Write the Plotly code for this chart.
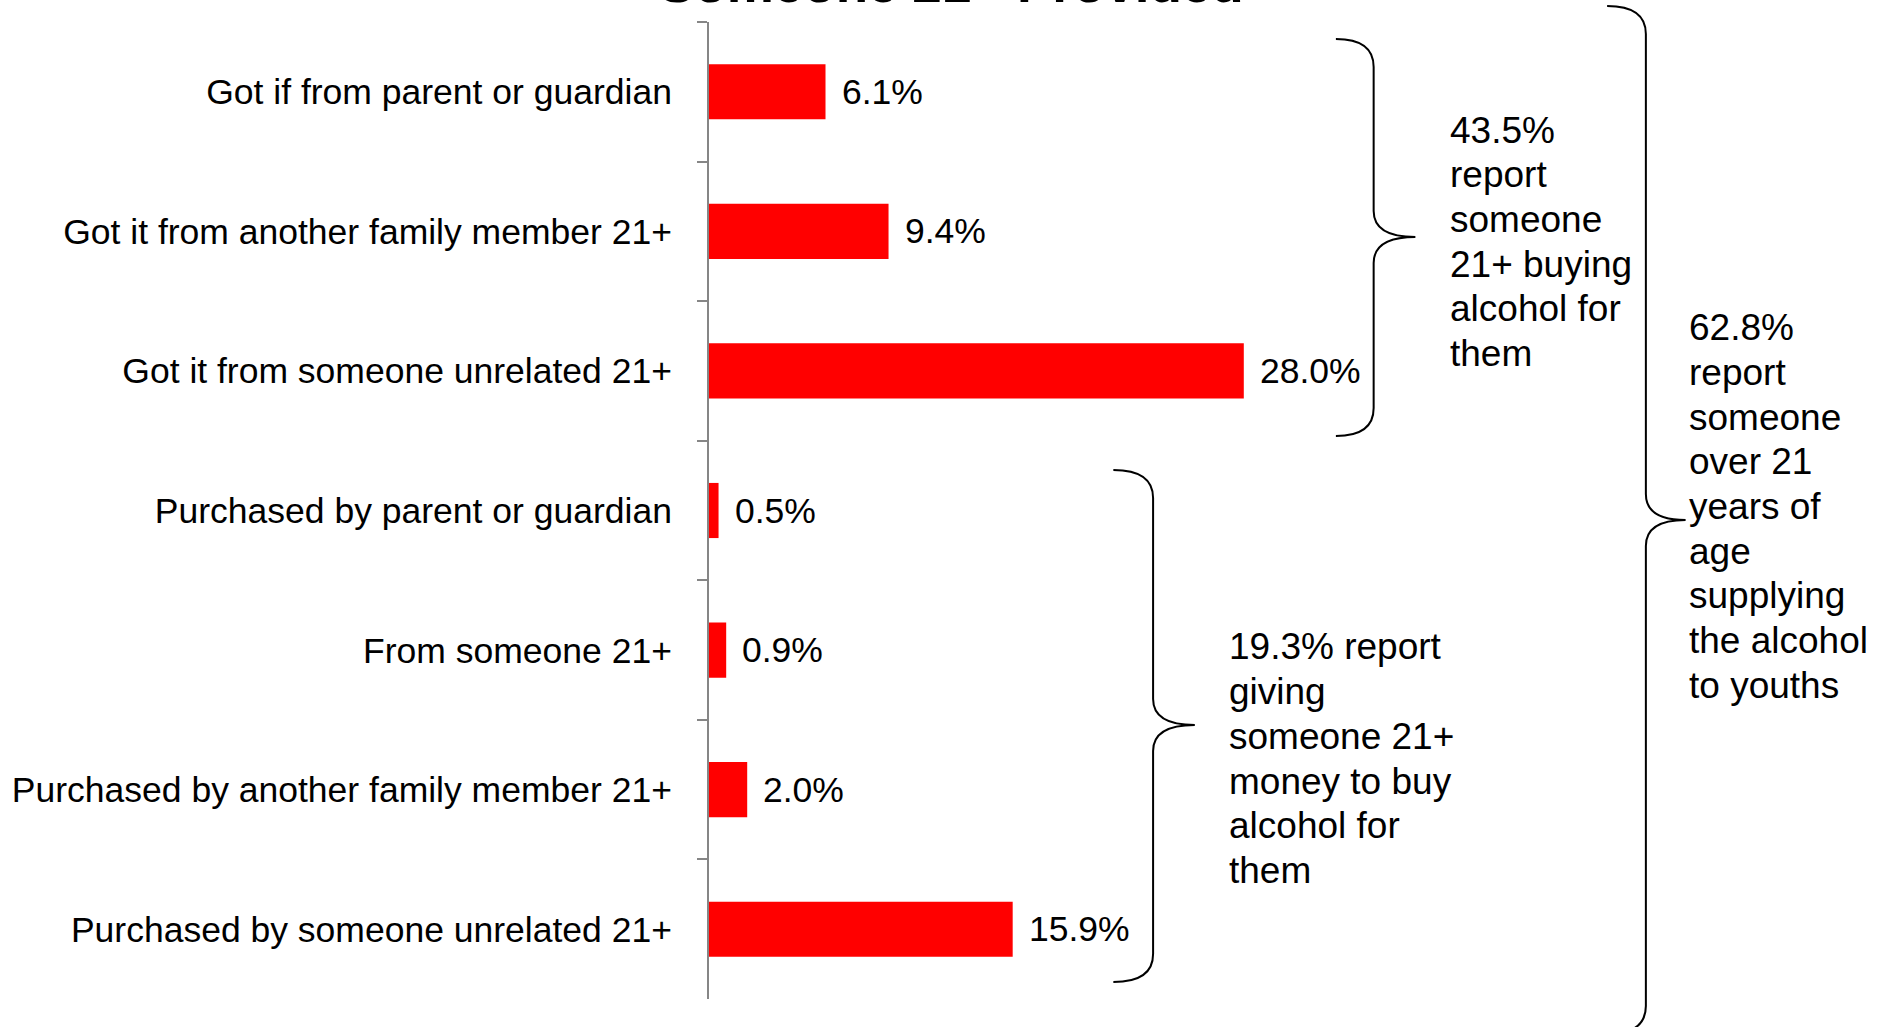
import plotly.graph_objects as go

# ---- data ----
categories = [
    "Got if from parent or guardian",
    "Got it from another family member 21+",
    "Got it from someone unrelated 21+",
    "Purchased by parent or guardian",
    "From someone 21+",
    "Purchased by another family member 21+",
    "Purchased by someone unrelated 21+",
]
values = [6.1, 9.4, 28.0, 0.5, 0.9, 2.0, 15.9]
value_labels = ["6.1%", "9.4%", "28.0%", "0.5%", "0.9%", "2.0%", "15.9%"]

title_text = "Someone 21+ Provided"
note_top = ["43.5%", "report", "someone", "21+ buying", "alcohol for", "them"]
note_bottom = ["19.3% report", "giving", "someone 21+", "money to buy", "alcohol for", "them"]
note_all = ["62.8%", "report", "someone", "over 21", "years of", "age",
            "supplying", "the alcohol", "to youths"]

# ---- layout geometry (page pixels) ----
W, H = 1889, 1027
ML, MR, MT, MB = 704, 416, 22, 28
PW, PH = W - ML - MR, H - MT - MB
FONT = "Arial, Liberation Sans, sans-serif"
FS = 35.5
FS_NOTE = 37
LINE = 44.7


def px(x):
    return (x - ML) / PW


def py(y):
    return (H - MB - y) / PH


def brace(xe, xm, xt, yt, ytip, yb, r=28, rt=26):
    p = (
        f"M {px(xe)},{py(yt)} "
        f"Q {px(xm)},{py(yt)} {px(xm)},{py(yt + r)} "
        f"L {px(xm)},{py(ytip - rt)} "
        f"Q {px(xm)},{py(ytip)} {px(xt)},{py(ytip)} "
        f"Q {px(xm)},{py(ytip)} {px(xm)},{py(ytip + rt)} "
        f"L {px(xm)},{py(yb - r)} "
        f"Q {px(xm)},{py(yb)} {px(xe)},{py(yb)}"
    )
    return dict(type="path", xref="paper", yref="paper", path=p,
                line=dict(color="black", width=2))


fig = go.Figure(
    go.Bar(
        x=values,
        y=categories,
        orientation="h",
        marker=dict(color="#FF0000", line=dict(width=0)),
        showlegend=False,
        hoverinfo="skip",
    )
)

annotations = []
for c, v, t in zip(categories, values, value_labels):
    annotations.append(dict(x=v, y=c, xref="x", yref="y", text=t, showarrow=False,
                            xanchor="left", yanchor="middle", xshift=14,
                            font=dict(family=FONT, size=FS, color="black")))

annotations.append(dict(x=px(948), y=py(-16), xref="paper", yref="paper",
                        text=f"<b>{title_text}</b>", showarrow=False,
                        xanchor="center", yanchor="middle",
                        font=dict(family=FONT, size=53, color="black")))

for lines, x0, y0 in [(note_top, 1447.5, 130.1), (note_bottom, 1225, 646.9),
                      (note_all, 1688.5, 327.7)]:
    for i, ln in enumerate(lines):
        annotations.append(dict(x=px(x0), y=py(y0 + i * LINE), xref="paper", yref="paper",
                                text=ln, showarrow=False, align="left",
                                xanchor="left", yanchor="middle",
                                font=dict(family=FONT, size=FS_NOTE, color="black")))

shapes = [
    brace(1335, 1373, 1415, 39, 237, 436),
    brace(1111, 1151, 1193, 470, 725, 982),
    brace(1608, 1647, 1687, 6, 520, 1034),
]

fig.update_layout(
    width=W, height=H,
    margin=dict(l=ML, r=MR, t=MT, b=MB, pad=0),
    paper_bgcolor="white", plot_bgcolor="white",
    bargap=0.605,
    annotations=annotations,
    shapes=shapes,
    xaxis=dict(range=[0, 40], visible=False, fixedrange=True),
    yaxis=dict(
        type="category",
        categoryorder="array", categoryarray=categories,
        range=[6.5, -0.5],
        showline=True, linecolor="#868686", linewidth=2,
        ticks="outside", tickson="boundaries", ticklen=10, tickwidth=2,
        tickcolor="#868686", showgrid=False, zeroline=False,
        ticklabelstandoff=28,
        tickfont=dict(family=FONT, size=FS, color="black"),
        fixedrange=True,
    ),
)

fig.write_html(
    "out.html",
    config={"displayModeBar": False},
    post_script="document.body.style.margin='0';document.body.style.overflow='hidden';",
)
